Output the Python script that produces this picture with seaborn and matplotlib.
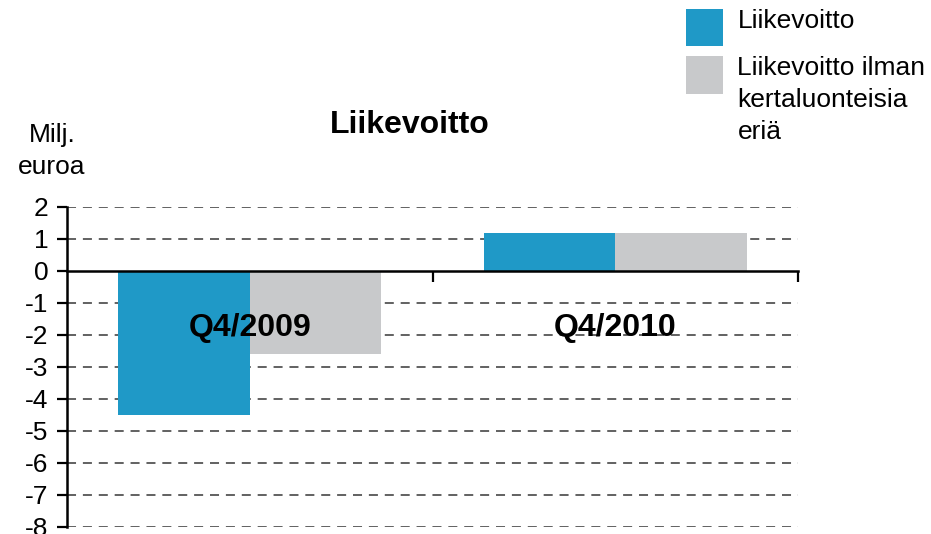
import pandas as pd
import seaborn as sns
import matplotlib.pyplot as plt
from matplotlib.ticker import FixedLocator

quarters = ['Q4/2009', 'Q4/2010']
series_names = ['Liikevoitto', 'Liikevoitto ilman\nkertaluonteisia\neriä']
liikevoitto = [-4.5, 1.2]
ilman_kertaeria = [-2.6, 1.2]
y_ticks = [2, 1, 0, -1, -2, -3, -4, -5, -6, -7, -8]

colors = ['#1f99c7', '#c8c9cb']

df = pd.DataFrame({
    'Kvartaali': quarters * 2,
    'Sarja': [series_names[0]] * 2 + [series_names[1]] * 2,
    'Arvo': liikevoitto + ilman_kertaeria,
})

sns.set_style('white')
plt.rcParams['font.family'] = ['Liberation Sans', 'DejaVu Sans']
plt.rcParams['text.color'] = 'black'
plt.rcParams['xtick.color'] = 'black'
plt.rcParams['ytick.color'] = 'black'

fig = plt.figure(figsize=(9.31, 5.34), dpi=100)
ax = fig.add_axes([67 / 931, 1 - 527 / 534, (798 - 67) / 931, (527 - 207) / 534])

sns.barplot(data=df, x='Kvartaali', y='Arvo', hue='Sarja', palette=colors,
            width=0.72, gap=0, linewidth=0, saturation=1, ax=ax, legend=False)

ax.set_xlim(-0.5, 1.5)
ax.set_ylim(-8, 2)
ax.set_yticks(y_ticks)
ax.set_yticklabels([str(v) for v in y_ticks], fontsize=19)
ax.set_axisbelow(False)

# grid lines (dashed), except the zero line which is the x axis
for v in y_ticks:
    if v != 0:
        ax.axhline(v, color='#555555', lw=1.3, dashes=(5, 3.8), zorder=0)

ax.spines['top'].set_visible(False)
ax.spines['right'].set_visible(False)
ax.spines['bottom'].set_position(('data', 0))
for s in ['left', 'bottom']:
    ax.spines[s].set_color('black')
    ax.spines[s].set_linewidth(1.8)

ax.xaxis.set_minor_locator(FixedLocator([0.5, 1.5]))
ax.tick_params(axis='x', which='major', bottom=True, length=0, pad=30, labelsize=23)
ax.tick_params(axis='x', which='minor', bottom=True, length=8, width=1.6, color='black', direction='out')
ax.tick_params(axis='y', which='major', left=True, length=7.5, width=1.6, color='black', direction='out', pad=6)
for lbl in ax.get_xticklabels():
    lbl.set_fontweight('bold')
ax.set_xlabel('')
ax.set_ylabel('')

ax.set_title('Liikevoitto', fontsize=23, fontweight='bold', x=0.469, pad=53)
fig.text(52 / 931, 1 - 151 / 534, 'Milj.\neuroa', ha='center', va='center', fontsize=19, linespacing=1.45)

handles = [plt.Rectangle((0, 0), 1, 1, color=c, lw=0) for c in colors]
leg = fig.legend(handles, series_names, loc='upper left', bbox_to_anchor=(686 / 931, 1 - 9 / 534),
                 frameon=False, fontsize=19, handlelength=1.4, handleheight=1.8,
                 handletextpad=0.55, labelspacing=0.38, borderpad=0, borderaxespad=0)
for t in leg.get_texts():
    t.set_linespacing(1.4)
# put the box next to the first line of a wrapped label
for col in leg._legend_handle_box.get_children():
    for row in col.get_children():
        row.align = 'top'

fig.savefig('out.png', dpi=100)
